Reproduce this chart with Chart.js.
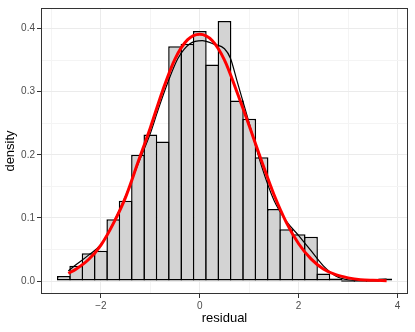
<!DOCTYPE html>
<html>
<head>
<meta charset="utf-8">
<script src="https://cdn.jsdelivr.net/npm/chart.js@4/dist/chart.umd.min.js"></script>
<style>
  html, body { margin: 0; padding: 0; background: #fff; }
  canvas { display: block; }
</style>
</head>
<body>
<canvas id="resid-hist" width="415" height="332"></canvas>
<script>
// histogram bins (centres, width 0.25) and their density
const binCenters = [-2.75, -2.5, -2.25, -2.0, -1.75, -1.5, -1.25, -1.0, -0.75, -0.5, -0.25, 0,
  0.25, 0.5, 0.75, 1.0, 1.25, 1.5, 1.75, 2.0, 2.25, 2.5, 2.75, 3.0, 3.25, 3.5, 3.75];
const binDensity = [0.008, 0.024, 0.044, 0.048, 0.098, 0.127, 0.200, 0.232, 0.221, 0.372, 0.376, 0.396,
  0.343, 0.412, 0.286, 0.257, 0.196, 0.114, 0.082, 0.074, 0.070, 0.012, 0.004, 0, 0, 0, 0.004];

// kernel density estimate (black line)
const kdeX = [-2.66, -2.5, -2.25, -2.0, -1.75, -1.5, -1.25, -1.0, -0.84, -0.64, -0.44, -0.2, 0.05,
  0.3, 0.5, 0.62, 0.75, 1.0, 1.25, 1.5, 1.75, 2.0, 2.25, 2.5, 2.75, 3.0, 3.25, 3.5, 3.78];
const kdeY = [0.016, 0.026, 0.041, 0.058, 0.092, 0.135, 0.185, 0.234, 0.272, 0.316, 0.353, 0.376, 0.381,
  0.375, 0.368, 0.353, 0.318, 0.250, 0.182, 0.128, 0.095, 0.072, 0.048, 0.024, 0.008, 0.002, 0.001, 0.002, 0.003];

// normal curve (red line)
const normX = [-2.66, -2.5, -2.25, -2.0, -1.75, -1.5, -1.25, -1.0, -0.75, -0.5, -0.25, 0, 0.25,
  0.5, 0.75, 1.0, 1.25, 1.5, 1.75, 2.0, 2.25, 2.5, 2.75, 3.0, 3.25, 3.5, 3.78];
const normY = [0.012, 0.019, 0.034, 0.057, 0.091, 0.133, 0.188, 0.243, 0.302, 0.352, 0.382, 0.391, 0.381,
  0.350, 0.300, 0.246, 0.190, 0.137, 0.093, 0.059, 0.035, 0.019, 0.010, 0.005, 0.002, 0.001, 0.0005];

const xTicks = [-3, -2, -1, 0, 1, 2, 3, 4];
const yTicks = [0, 0.05, 0.1, 0.15, 0.2, 0.25, 0.3, 0.35, 0.4];

const isMajorX = v => Math.abs(v % 2) < 1e-9;
const isMajorY = v => Math.abs(Math.round(v * 20) % 2) === 0;

const panelBorder = {
  id: "panelBorder",
  afterDatasetsDraw(chart) {
    const { ctx, chartArea: a } = chart;
    ctx.save();
    ctx.strokeStyle = "#333333";
    ctx.lineWidth = 1;
    ctx.strokeRect(a.left + 0.5, a.top + 0.5, a.right - a.left - 1, a.bottom - a.top - 1);
    ctx.restore();
  }
};

const canvas = document.getElementById("resid-hist");

new Chart(canvas, {
  type: "bar",
  data: {
    datasets: [
      {
        type: "line",
        data: normX.map((x, i) => ({ x, y: normY[i] })),
        borderColor: "#ff0000",
        borderWidth: 3,
        pointRadius: 0,
        cubicInterpolationMode: "monotone",
        order: 1
      },
      {
        type: "line",
        data: kdeX.map((x, i) => ({ x, y: kdeY[i] })),
        borderColor: "#000000",
        borderWidth: 1.2,
        pointRadius: 0,
        cubicInterpolationMode: "monotone",
        order: 2
      },
      {
        type: "bar",
        data: binCenters.map((x, i) => ({ x, y: binDensity[i] })),
        backgroundColor: "#d3d3d3",
        borderColor: "#000000",
        borderWidth: 1.5,
        borderSkipped: false,
        minBarLength: 1.5,
        barPercentage: 1.115,
        categoryPercentage: 1,
        order: 3
      }
    ]
  },
  options: {
    responsive: false,
    animation: false,
    layout: { padding: { top: 6, right: 7, left: 0, bottom: 0 } },
    plugins: {
      legend: { display: false },
      tooltip: { enabled: false }
    },
    scales: {
      x: {
        type: "linear",
        min: -3.2125,
        max: 4.2125,
        offset: false,
        afterBuildTicks(scale) {
          scale.ticks = xTicks.map(v => ({ value: v }));
        },
        afterFit(scale) {
          scale.height = 38;
        },
        ticks: {
          color: "#4d4d4d",
          font: { family: "'Liberation Sans', Arial, sans-serif", size: 10 },
          padding: 2,
          maxRotation: 0,
          autoSkip: false,
          callback: v => isMajorX(v) ? (v < 0 ? "\u2212" + Math.abs(v) : String(v)) : ""
        },
        grid: {
          offset: false,
          color: ctx => isMajorX(ctx.tick.value) ? "#ebebeb" : "#f4f4f4",
          tickColor: ctx => isMajorX(ctx.tick.value) ? "#333333" : "rgba(0,0,0,0)",
          tickLength: 4
        },
        border: { display: false },
        title: {
          display: true,
          text: "residual",
          color: "#000000",
          font: { family: "'Liberation Sans', Arial, sans-serif", size: 13 },
          padding: { top: 0, bottom: 6 }
        }
      },
      y: {
        min: -0.0206,
        max: 0.4326,
        afterBuildTicks(scale) {
          scale.ticks = yTicks.map(v => ({ value: v }));
        },
        afterFit(scale) {
          scale.width = 41;
        },
        ticks: {
          color: "#4d4d4d",
          font: { family: "'Liberation Sans', Arial, sans-serif", size: 10 },
          padding: 2,
          autoSkip: false,
          callback: v => isMajorY(v) ? v.toFixed(1) : ""
        },
        grid: {
          color: ctx => isMajorY(ctx.tick.value) ? "#ebebeb" : "#f4f4f4",
          tickColor: ctx => isMajorY(ctx.tick.value) ? "#333333" : "rgba(0,0,0,0)",
          tickLength: 4
        },
        border: { display: false },
        title: {
          display: true,
          text: "density",
          color: "#000000",
          font: { family: "'Liberation Sans', Arial, sans-serif", size: 13 },
          padding: { top: 3, bottom: 0 }
        }
      }
    }
  },
  plugins: [panelBorder]
});
</script>
</body>
</html>
